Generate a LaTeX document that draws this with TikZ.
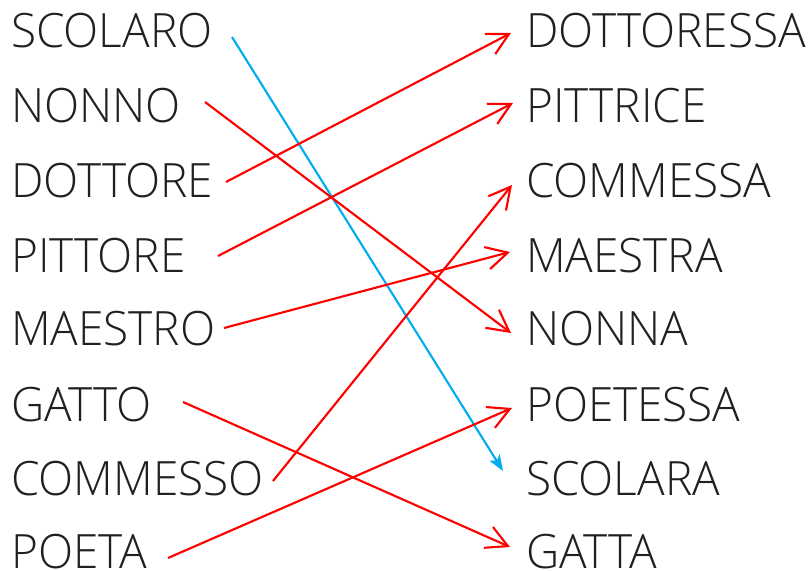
\documentclass[tikz,border=0pt]{standalone}
\usepackage{fontspec}
\setmainfont{Open Sans}[UprightFont=* Light, FakeStretch=0.97]
\usetikzlibrary{arrows.meta}
\definecolor{lred}{RGB}{255,0,0}
\definecolor{lblue}{RGB}{0,174,239}
\definecolor{ltext}{RGB}{35,31,32}
\tikzset{
  word/.style={anchor=base west, inner sep=0pt, text=ltext, font=\fontsize{35.5}{40}\selectfont},
  redarrow/.style={draw=lred, line width=1.6pt, -{Straight Barb[length=16pt,width=17pt,line width=1.6pt]}},
  bluearrow/.style={draw=lblue, line width=1.6pt, -{Stealth[length=12pt,width=9pt,inset=3pt]}}
}
\begin{document}
\begin{tikzpicture}[x=0.75pt,y=-0.75pt]
\useasboundingbox (0,0) rectangle (808,571);
% left column
\node[word] (l1) at (11,47) {SCOLARO};
\node[word] (l2) at (11,122) {NONNO};
\node[word] (l3) at (11,197) {DOTTORE};
\node[word] (l4) at (11,272) {PITTORE};
\node[word] (l5) at (11,345) {MAESTRO};
\node[word] (l6) at (11,421) {GATTO};
\node[word] (l7) at (11,495) {COMMESSO};
\node[word] (l8) at (11,568) {POETA};
% right column
\node[word] (r1) at (526,47) {DOTTORESSA};
\node[word] (r2) at (526,122) {PITTRICE};
\node[word] (r3) at (526,197) {COMMESSA};
\node[word] (r4) at (526,272) {MAESTRA};
\node[word] (r5) at (526,345) {NONNA};
\node[word] (r6) at (526,421) {POETESSA};
\node[word] (r7) at (526,495) {SCOLARA};
\node[word] (r8) at (526,568) {GATTA};
% connector ends
\coordinate (s1) at (232,37);
\coordinate (s2) at (205,102);
\coordinate (s3) at (226,182);
\coordinate (s4) at (218,256);
\coordinate (s5) at (224,328);
\coordinate (s6) at (183,402);
\coordinate (s7) at (273,481);
\coordinate (s8) at (168,558);
\coordinate (e1) at (511,33);
\coordinate (e2) at (513,103);
\coordinate (e3) at (512,185);
\coordinate (e4) at (510,252);
\coordinate (e5) at (511,333);
\coordinate (e6) at (512,408);
\coordinate (e7) at (503,471);
\coordinate (e8) at (510,547);
\draw[bluearrow] (s1) -- (e7);
\draw[redarrow] (s2) -- (e5);
\draw[redarrow] (s3) -- (e1);
\draw[redarrow] (s4) -- (e2);
\draw[redarrow] (s5) -- (e4);
\draw[redarrow] (s6) -- (e8);
\draw[redarrow] (s7) -- (e3);
\draw[redarrow] (s8) -- (e6);
\end{tikzpicture}
\end{document}
